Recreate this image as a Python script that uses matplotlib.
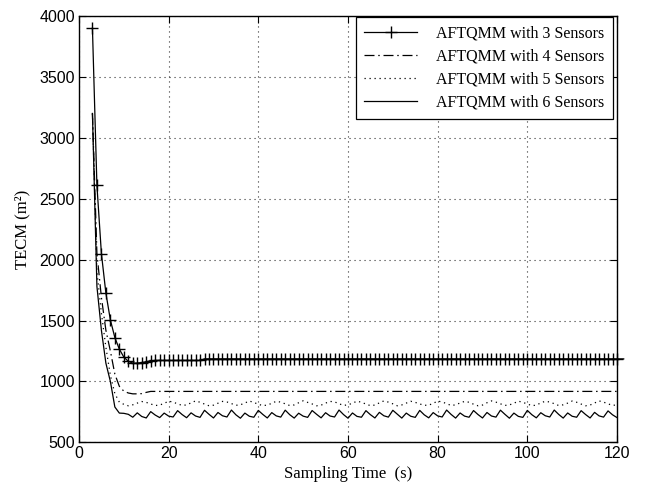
import numpy as np
import matplotlib
matplotlib.use("Agg")
import matplotlib.pyplot as plt

# sampling instants (s)
TIME = np.arange(3, 121)
TIME_3 = np.append(TIME, 121.5)

# TECM (m^2) for each sensor count
tecm_3 = ([3900, 2610, 2050, 1725, 1505, 1360, 1265, 1200, 1165, 1150, 1150, 1155, 1162, 1170]
          + [1172] * 11 + [1185] * 94)

tecm_4 = ([3200, 2050, 1690, 1420, 1250, 1060, 960, 920, 905, 898, 898, 900, 910]
          + [918] * 105)

tecm_5 = [3200, 1900, 1560, 1280, 1050, 900, 830,
          812, 800, 808, 822, 835, 828, 815, 802, 806, 820, 838, 830,
          816, 803, 807, 824, 840, 829, 814, 800, 805, 821, 836, 831,
          818, 804, 808, 823, 839, 827, 813, 801, 806, 820, 837, 830,
          816, 802, 807, 825, 841, 828, 815, 800, 805, 822, 836, 832,
          817, 803, 808, 821, 838, 829, 814, 801, 806, 824, 840, 830,
          816, 800, 807, 822, 837, 828, 815, 804, 805, 820, 839, 831,
          818, 802, 808, 823, 836, 829, 813, 800, 806, 825, 840, 830,
          816, 803, 807, 821, 838, 828, 815, 801, 805, 824, 837, 831,
          817, 802, 808, 822, 839, 829, 814, 800, 806, 823, 840, 830,
          816, 803, 808]

tecm_6 = [3200, 1780, 1420, 1150, 1000, 790, 740,
          738, 730, 706, 742, 712, 700, 752, 724, 703, 740, 715, 708,
          760, 728, 702, 742, 716, 705, 763, 730, 700, 745, 718, 708,
          765, 726, 698, 740, 714, 706, 762, 729, 700, 744, 717, 707,
          764, 727, 699, 739, 715, 705, 761, 730, 701, 743, 716, 708,
          765, 728, 698, 741, 713, 706, 760, 727, 700, 746, 718, 707,
          763, 731, 699, 740, 714, 705, 762, 726, 701, 744, 717, 708,
          765, 729, 699, 741, 715, 706, 761, 728, 700, 745, 716, 707,
          764, 730, 698, 740, 713, 705, 762, 727, 701, 743, 718, 708,
          765, 729, 699, 741, 714, 706, 760, 728, 700, 746, 717, 707,
          758, 726, 703]

LABELS = ["AFTQMM with 3 Sensors", "AFTQMM with 4 Sensors",
          "AFTQMM with 5 Sensors", "AFTQMM with 6 Sensors"]

SERIF = ["Liberation Serif", "DejaVu Serif"]
SANS = ["Liberation Sans", "DejaVu Sans"]

fig = plt.figure(figsize=(6.49, 4.88), dpi=100)
ax = fig.add_axes([0.1217, 0.0936, 0.829, 0.8736])

ax.plot(TIME_3, tecm_3, color="black", linewidth=0.9, marker="+", markersize=8,
        markeredgewidth=1.0, markevery=slice(0, len(TIME)), clip_on=False,
        label=LABELS[0], zorder=4)
ax.plot(TIME, tecm_4, color="black", linewidth=0.9, linestyle=(0, (8, 3, 1.2, 3)),
        label=LABELS[1], zorder=3)
ax.plot(TIME, tecm_5, color="black", linewidth=0.9, linestyle=(0, (1, 3)),
        label=LABELS[2], zorder=3)
ax.plot(TIME, tecm_6, color="black", linewidth=0.9, linestyle="-",
        label=LABELS[3], zorder=3)

ax.set_xlim(0, 120)
ax.set_ylim(500, 4000)
ax.set_xticks(range(0, 121, 20))
ax.set_yticks(range(500, 4001, 500))

ax.grid(True, linestyle=(0, (1, 3.5)), linewidth=0.8, color="0.2")
ax.set_axisbelow(True)

for spine in ax.spines.values():
    spine.set_linewidth(1.0)
    spine.set_color("black")

ax.tick_params(axis="both", direction="in", length=5, width=0.8,
               top=True, right=True, labelsize=11.5, pad=3)
for lbl in ax.get_xticklabels() + ax.get_yticklabels():
    lbl.set_family(SANS)

ax.set_xlabel("Sampling Time  (s)", fontsize=12, family=SERIF, labelpad=3)
ax.set_ylabel("TECM (m²)", fontsize=12, family=SERIF, labelpad=6)

leg = ax.legend(loc="upper right", bbox_to_anchor=(0.992, 0.997), borderaxespad=0,
                fancybox=False, edgecolor="black", framealpha=1,
                prop={"family": SERIF, "size": 11.5}, handlelength=3.3,
                labelspacing=0.45, borderpad=0.5, handletextpad=1.2)
leg.get_frame().set_linewidth(0.9)

fig.savefig("out.png", dpi=100, facecolor="white")
